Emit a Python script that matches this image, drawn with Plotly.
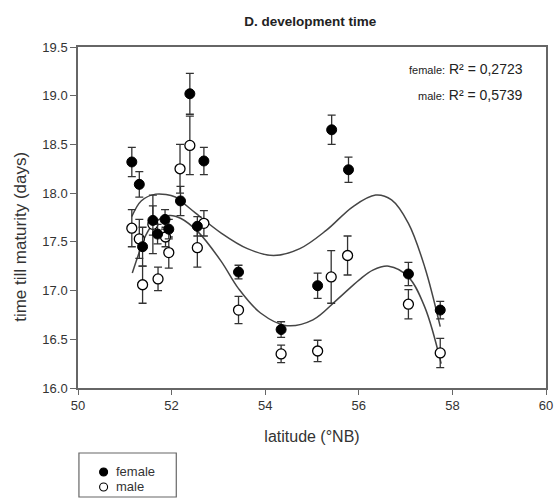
import plotly.graph_objects as go

# ---- data ----
lat_female = [51.15, 51.31, 51.38, 51.60, 51.70, 51.86, 51.94, 52.19, 52.39, 52.55, 52.69,
              53.43, 54.34, 55.12, 55.42, 55.78, 57.06, 57.74]
dev_female = [18.32, 18.09, 17.45, 17.72, 17.58, 17.73, 17.63, 17.92, 19.02, 17.66, 18.33,
              17.19, 16.60, 17.05, 18.65, 18.24, 17.17, 16.80]
err_female = [0.15, 0.13, 0.20, 0.15, 0.10, 0.10, 0.10, 0.15, 0.21, 0.10, 0.14,
              0.07, 0.08, 0.13, 0.15, 0.13, 0.12, 0.09]

lat_male = [51.15, 51.31, 51.38, 51.60, 51.71, 51.87, 51.94, 52.18, 52.39, 52.55, 52.69,
            53.43, 54.34, 55.12, 55.41, 55.76, 57.06, 57.74]
dev_male = [17.64, 17.53, 17.06, 17.68, 17.12, 17.55, 17.39, 18.25, 18.49, 17.44, 17.69,
            16.80, 16.35, 16.38, 17.14, 17.36, 16.86, 16.36]
err_male = [0.19, 0.20, 0.19, 0.30, 0.12, 0.10, 0.16, 0.25, 0.30, 0.20, 0.13,
            0.14, 0.09, 0.11, 0.27, 0.20, 0.15, 0.15]

# fitted curves
fit_f_lat = [51.15, 51.35, 51.66, 52.08, 52.22, 52.50, 53.06, 53.62, 54.18, 54.74,
             55.31, 55.87, 56.36, 56.70, 57.06, 57.41, 57.74]
fit_f_val = [17.76, 17.92, 17.99, 17.96, 17.91, 17.80, 17.59, 17.43, 17.36, 17.43,
             17.62, 17.86, 17.98, 17.93, 17.69, 17.24, 16.63]
fit_m_lat = [51.16, 51.30, 51.45, 51.62, 51.95, 52.20, 52.57, 53.06, 53.43, 53.90,
             54.46, 55.02, 55.52, 56.01, 56.30, 56.64, 57.06, 57.41, 57.76]
fit_m_val = [17.18, 17.38, 17.57, 17.69, 17.77, 17.74, 17.60, 17.30, 17.02, 16.77,
             16.64, 16.70, 16.90, 17.11, 17.21, 17.25, 17.14, 16.83, 16.25]

series_names = ["female", "male"]
r2_values = ["0,2723", "0,5739"]

FONT = "Liberation Sans, Arial, sans-serif"
LINE = "#454545"
TXT = "#333333"

fig = go.Figure()

fig.add_trace(go.Scatter(x=fit_f_lat, y=fit_f_val, mode="lines", line=dict(color=LINE, width=1.5, shape="spline"),
                         showlegend=False, hoverinfo="skip"))
fig.add_trace(go.Scatter(x=fit_m_lat, y=fit_m_val, mode="lines", line=dict(color=LINE, width=1.5, shape="spline"),
                         showlegend=False, hoverinfo="skip"))

fig.add_trace(go.Scatter(
    x=lat_male, y=dev_male, mode="markers", name="male", showlegend=False,
    marker=dict(symbol="circle", size=10, color="white", line=dict(color="black", width=1.3)),
    error_y=dict(type="data", array=err_male, visible=True, color="#333333", thickness=1.3, width=4),
))
fig.add_trace(go.Scatter(
    x=lat_female, y=dev_female, mode="markers", name="female", showlegend=False,
    marker=dict(symbol="circle", size=10, color="black", line=dict(color="black", width=1)),
    error_y=dict(type="data", array=err_female, visible=True, color="#333333", thickness=1.3, width=4),
))

ann = []
r2_y = [0.9355, 0.859]
for lab, val, yy in zip(series_names, r2_values, r2_y):
    ann.append(dict(xref="paper", yref="paper", x=0.955, y=yy, xanchor="right", yanchor="middle",
                    text=f"<span style='font-size:11px'>{lab}:</span> R² = {val}", showarrow=False,
                    font=dict(family=FONT, size=14, color="#222")))

# y-axis title placed as in the reference (slightly below the plot centre)
ann.append(dict(xref="paper", yref="paper", x=-0.122, y=0.443, xanchor="center", yanchor="middle",
                text="time till maturity (days)", textangle=-90, showarrow=False,
                font=dict(family=FONT, size=17, color=TXT)))

# manual legend (box, symbols, labels) below the plot
leg_y = [-0.2463, -0.2903]
leg_fill = ["black", "white"]
shapes = [dict(type="rect", xref="paper", yref="paper", x0=0.002, x1=0.21, y0=-0.3196, y1=-0.1906,
               line=dict(color="#666", width=1.2), fillcolor="rgba(0,0,0,0)")]
for name, yy, fill in zip(series_names, leg_y, leg_fill):
    shapes.append(dict(type="circle", xref="paper", yref="paper", xsizemode="pixel", ysizemode="pixel",
                       xanchor=0.0547, yanchor=yy, x0=-4, x1=4, y0=-4, y1=4,
                       fillcolor=fill, line=dict(color="black", width=1.1)))
    ann.append(dict(xref="paper", yref="paper", x=0.0779, y=yy, xanchor="left", yanchor="middle",
                    text=name, showarrow=False, font=dict(family=FONT, size=13, color=TXT)))

fig.update_layout(
    width=559, height=501,
    margin=dict(l=78, r=6, t=47, b=113),
    paper_bgcolor="white", plot_bgcolor="white",
    font=dict(family=FONT, size=13, color=TXT),
    title=dict(text="<b>D. development time</b>", x=0.555, xanchor="center", y=0.958, yanchor="middle",
               font=dict(family=FONT, size=13.5, color="#222")),
    xaxis=dict(range=[50, 60], dtick=2, tick0=50, showgrid=False, zeroline=False,
               showline=True, linecolor="#666", linewidth=1.5, mirror=True,
               ticks="outside", ticklen=5, tickcolor="#666", tickwidth=1.2,
               tickfont=dict(size=13, color=TXT),
               title=dict(text="latitude (°NB)", standoff=18, font=dict(size=16, color=TXT))),
    yaxis=dict(range=[16, 19.5], dtick=0.5, tick0=16, tickformat=".1f", showgrid=False, zeroline=False,
               showline=True, linecolor="#666", linewidth=1.5, mirror=True,
               ticks="outside", ticklen=6, tickcolor="#666", tickwidth=1.2,
               tickfont=dict(size=13, color=TXT)),
    showlegend=False,
    annotations=ann,
    shapes=shapes,
)

fig.write_html("out.html")
